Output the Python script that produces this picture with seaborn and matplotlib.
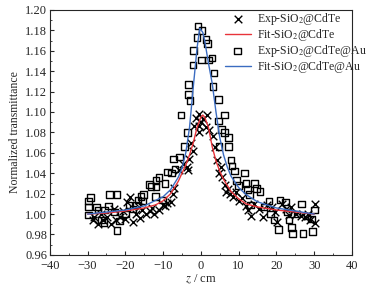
import numpy as np
import pandas as pd
import matplotlib
matplotlib.use('Agg')
import matplotlib.pyplot as plt
import seaborn as sns

# --- data ---
# Exp-SiO2@CdTe (crosses)
z_cdte = [-28.7, -28.3, -27.2, -25.9, -24.9, -23.7, -22.6, -21.5, -20.5, -19.5, -18.9, -18.0,
          -17.1, -16.3, -15.5, -14.5, -13.4, -12.3, -11.2, -10.1, -9.0, -7.9, -7.5, -7.0,
          -5.7, -4.8, -3.5, -3.1, -2.2, -1.8, -1.3, -0.6, -0.6, -0.4, 0.0, 0.6, 1.3, 1.5,
          2.2, 3.1, 3.8, 4.4, 4.8, 5.7, 6.4, 6.6, 7.6, 8.4, 9.2, 10.1, 10.8, 11.9, 13.2,
          14.1, 15.4, 16.4, 17.6, 18.9, 20.2, 21.5, 22.6, 24.0, 25.1, 26.4, 27.7, 29.0,
          30.3, 30.3, -26.5, -23.0, -20.0, -16.0, -13.0, -9.5, -3.8, -2.6, 5.2, 7.2,
          12.5, 19.5, 23.3, 28.3]
t_cdte = [0.994, 0.997, 0.990, 0.994, 0.997, 0.990, 0.994, 0.997, 1.003, 1.012, 1.017, 0.992,
          1.000, 1.007, 1.004, 1.000, 1.003, 1.000, 1.004, 1.009, 1.011, 1.012, 1.020, 1.026,
          1.043, 1.049, 1.043, 1.054, 1.062, 1.086, 1.094, 1.098, 1.086, 1.080, 1.090, 1.093,
          1.085, 1.097, 1.082, 1.076, 1.066, 1.053, 1.040, 1.036, 1.028, 1.022, 1.020, 1.017,
          1.022, 1.013, 1.016, 1.008, 0.998, 1.010, 1.005, 0.997, 1.009, 1.007, 0.992, 1.010,
          1.005, 1.007, 1.000, 0.998, 0.997, 0.994, 1.010, 0.991, 1.000, 1.005, 0.995,
          0.996, 1.006, 1.008, 1.046, 1.070, 1.046, 1.025, 1.004, 1.002, 0.999, 1.000]

# Exp-SiO2@CdTe@Au (open squares)
z_au = [-29.8, -29.8, -29.8, -29.3, -27.7, -27.3, -26.3, -25.7, -25.5, -24.5, -24.2, -22.9,
        -22.2, -22.2, -21.5, -20.0, -19.1, -18.0, -17.1, -16.7, -15.8, -15.4, -15.2, -13.6,
        -13.2, -12.0, -11.9, -11.9, -11.1, -10.1, -9.5, -8.8, -7.8, -7.2, -6.8, -5.6, -5.3,
        -4.4, -3.5, -3.3, -3.3, -2.9, -2.1, -1.9, -1.05, -0.7, 0.1, 0.3, 1.3, 1.75, 2.0,
        2.9, 3.2, 3.5, 4.6, 4.7, 4.8, 5.4, 6.2, 6.2, 7.3, 7.3, 8.0, 8.2, 8.9, 9.4, 9.9,
        11.5, 11.9, 12.3, 12.9, 13.2, 14.2, 14.7, 15.6, 16.7, 18.0, 18.5, 19.4, 20.5,
        20.9, 22.4, 22.9, 23.3, 24.0, 24.2, 25.5, 26.6, 27.0, 28.1, 29.3, 29.5, 30.1]
t_au = [1.013, 1.007, 0.999, 1.016, 1.007, 1.004, 0.994, 0.992, 1.004, 1.008, 1.019, 1.002,
        0.984, 1.019, 0.993, 1.000, 1.009, 1.005, 1.009, 1.014, 1.017, 1.013, 1.019, 1.029,
        1.027, 1.017, 1.033, 1.027, 1.036, 1.014, 1.030, 1.041, 1.040, 1.054, 1.044, 1.056,
        1.097, 1.066, 1.080, 1.127, 1.117, 1.111, 1.146, 1.160, 1.173, 1.184, 1.151, 1.180,
        1.171, 1.167, 1.151, 1.153, 1.125, 1.138, 1.112, 1.091, 1.066, 1.083, 1.097, 1.080,
        1.066, 1.075, 1.053, 1.047, 1.042, 1.033, 1.028, 1.040, 1.030, 1.024, 1.019, 1.009,
        1.030, 1.025, 1.022, 1.007, 1.013, 1.000, 0.994, 0.985, 1.014, 1.012, 1.002, 0.994,
        0.987, 0.981, 1.000, 1.010, 0.981, 0.998, 0.995, 0.983, 1.004]

# Fit curves
z_fit_cdte = [-30, -25, -20, -15, -12, -10, -8, -6, -4, -3, -2, -1, 0, 0.5, 1, 2, 3, 4, 5,
              6, 8, 10, 12, 15, 20, 25, 30]
t_fit_cdte = [1.000, 1.001, 1.003, 1.006, 1.009, 1.013, 1.020, 1.032, 1.048, 1.058, 1.070,
              1.085, 1.095, 1.097, 1.095, 1.085, 1.066, 1.052, 1.042, 1.034, 1.022, 1.015,
              1.010, 1.007, 1.004, 1.002, 1.000]
z_fit_au = [-30, -25, -20, -15, -10, -8, -6, -5, -4, -3, -2, -1, -0.3, 0.5, 1, 2, 3, 4, 5,
            6, 7, 8, 10, 12, 15, 20, 25, 30]
t_fit_au = [1.000, 1.002, 1.004, 1.008, 1.017, 1.024, 1.036, 1.045, 1.060, 1.085, 1.125,
            1.163, 1.182, 1.178, 1.170, 1.148, 1.128, 1.100, 1.075, 1.058, 1.046, 1.037,
            1.026, 1.019, 1.012, 1.006, 1.003, 1.000]

RED = '#e8333a'
BLUE = '#3b6cc1'

# --- plot ---
sns.set_style('ticks')
plt.rcParams['font.family'] = ['Liberation Serif', 'DejaVu Serif']
plt.rcParams['mathtext.fontset'] = 'stix'
plt.rcParams['xtick.direction'] = 'in'
plt.rcParams['ytick.direction'] = 'in'

fig = plt.figure(figsize=(3.72, 2.91), dpi=100)
ax = fig.add_axes([0.134, 0.124, 0.812, 0.842])

sns.scatterplot(x=z_cdte, y=t_cdte, marker='x', color='black', s=30, linewidth=1.0,
                label='Exp-SiO$_2$@CdTe', ax=ax, zorder=3)
sns.lineplot(x=z_fit_cdte, y=t_fit_cdte, color=RED, linewidth=1.0, sort=True,
             label='Fit-SiO$_2$@CdTe', ax=ax, zorder=4)
sns.scatterplot(x=z_au, y=t_au, marker='s', fc='none', ec='black', s=22, linewidth=1.0,
                label='Exp-SiO$_2$@CdTe@Au', ax=ax, zorder=3)
sns.lineplot(x=z_fit_au, y=t_fit_au, color=BLUE, linewidth=1.0, sort=True,
             label='Fit-SiO$_2$@CdTe@Au', ax=ax, zorder=4)

ax.set_xlim(-40, 40)
ax.set_ylim(0.96, 1.20)
ax.set_xticks(np.arange(-40, 41, 10))
ax.set_yticks(np.arange(0.96, 1.201, 0.02))
ax.set_yticklabels([f'{v:.2f}' for v in np.arange(0.96, 1.201, 0.02)])
ax.set_xticklabels(['\u221240', '\u221230', '\u221220', '\u221210', '0', '10', '20', '30', '40'])
ax.xaxis.set_minor_locator(matplotlib.ticker.MultipleLocator(5))
ax.yaxis.set_minor_locator(matplotlib.ticker.MultipleLocator(0.01))
ax.tick_params(which='major', length=3, width=0.8, labelsize=9, pad=2)
ax.tick_params(axis='x', which='major', pad=4)
ax.tick_params(which='minor', length=1.5, width=0.6)
for sp in ax.spines.values():
    sp.set_linewidth(0.8)

ax.set_xlabel('$z$ / cm', fontsize=9, labelpad=0)
ax.set_ylabel('Normalized transmittance', fontsize=8.5, labelpad=3)

ax.legend(loc='upper left', bbox_to_anchor=(0.575, 1.0), frameon=False, fontsize=8.5,
          handlelength=2.2, handletextpad=0.5, labelspacing=0.0,
          borderaxespad=0.0, borderpad=0.1)

plt.savefig('out.png', dpi=100)
plt.close(fig)
